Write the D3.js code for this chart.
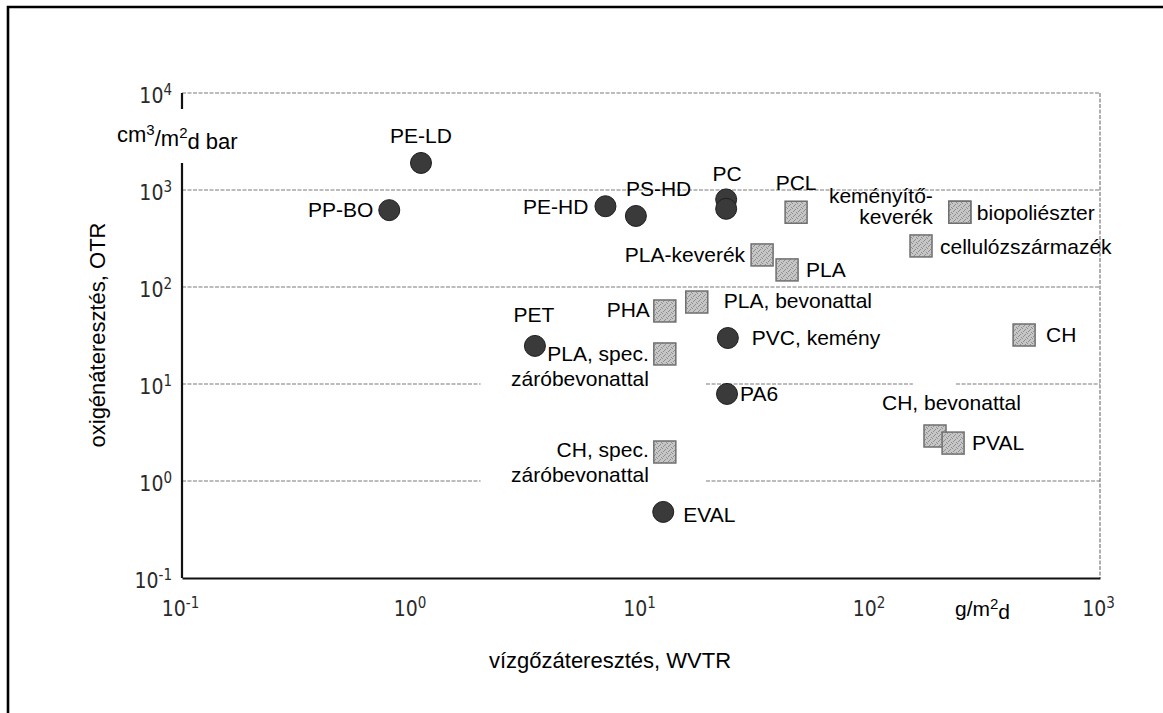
<!DOCTYPE html>
<html>
<head>
<meta charset="utf-8">
<script src="https://cdn.jsdelivr.net/npm/d3@7"></script>
<style>
  body { margin: 0; background: #fff; }
  svg { display: block; }
</style>
</head>
<body>
<div id="chart"></div>
<script>
// materials on the chart (one entry per marker)
const names = ["PE-LD", "PP-BO", "PE-HD", "PS-HD", "PC", "PC2", "PET", "PVC, kemény", "PA6", "EVAL",
    "PCL", "keményítő-keverék", "biopoliészter", "cellulózszármazék", "PLA-keverék", "PLA",
    "PLA, bevonattal", "PHA", "PLA, spec. záróbevonattal", "CH", "CH, bevonattal", "PVAL",
    "CH, spec. záróbevonattal"];
// water vapour transmission, g/m2d
const wvtr = [1.1, 0.8, 7.0, 9.5, 23.5, 23.5, 3.45, 23.9, 23.7, 12.5,
    47.4, 245, 245, 166, 33.7, 43.3,
    17.5, 12.7, 12.7, 467, 191, 229,
    12.7];
// oxygen transmission, cm3/m2d bar
const otr = [1900, 620, 680, 540, 800, 640, 24.7, 29.8, 7.9, 0.48,
    590, 590, 590, 265, 214, 150,
    70, 56.6, 20.4, 32, 2.91, 2.46,
    1.99];
// "fossil" = dark circle, "bio" = grey square
const kind = ["fossil", "fossil", "fossil", "fossil", "fossil", "fossil", "fossil", "fossil", "fossil", "fossil",
    "bio", "bio", "bio", "bio", "bio", "bio",
    "bio", "bio", "bio", "bio", "bio", "bio",
    "bio"];

const xTicks = [0.1, 1, 10, 100, 1000];
const yTicks = [0.1, 1, 10, 100, 1000, 10000];

// label placement next to each marker (anchor, offset in px, lines, line step)
const labelLayout = {
    "PE-LD": { a: "middle", dx: 0, dy: -20 },
    "PP-BO": { a: "end", dx: -16, dy: 7 },
    "PE-HD": { a: "end", dx: -17, dy: 8 },
    "PS-HD": { a: "start", dx: -10, dy: -20 },
    "PC": { a: "middle", dx: 1, dy: -18 },
    "PET": { a: "middle", dx: -1, dy: -24 },
    "PVC, kemény": { a: "start", dx: 24, dy: 7 },
    "PA6": { a: "start", dx: 13, dy: 7 },
    "EVAL": { a: "start", dx: 20, dy: 10 },
    "PCL": { a: "middle", dx: 0, dy: -22 },
    "keményítő-keverék": { a: "end", dx: -27, dy: -9, lines: ["keményítő-", "keverék"], step: 21 },
    "biopoliészter": { a: "start", dx: 17, dy: 8 },
    "cellulózszármazék": { a: "start", dx: 19, dy: 8 },
    "PLA-keverék": { a: "end", dx: -17, dy: 7 },
    "PLA": { a: "start", dx: 19, dy: 7 },
    "PLA, bevonattal": { a: "start", dx: 27, dy: 6 },
    "PHA": { a: "end", dx: -15, dy: 6 },
    "PLA, spec. záróbevonattal": { a: "end", dx: -16, dy: 7, lines: ["PLA, spec.", "záróbevonattal"], step: 25 },
    "CH": { a: "start", dx: 22, dy: 7 },
    "CH, bevonattal": { a: "start", dx: -53, dy: -26 },
    "PVAL": { a: "start", dx: 19, dy: 7 },
    "CH, spec. záróbevonattal": { a: "end", dx: -16, dy: 5, lines: ["CH, spec.", "záróbevonattal"], step: 25 }
};

// breaks in the dashed grid lines, in WVTR units
const gridGaps = { 1: [[2, 19.2]], 10: [[2, 19.2], [153, 236]] };

const W = 1163, H = 713;
const margin = { top: 93, right: 63, bottom: 135, left: 182 },
    width = W - margin.left - margin.right,
    height = H - margin.top - margin.bottom;

const root = d3.select("#chart").append("svg")
    .attr("width", W)
    .attr("height", H);

// speckled grey fill of the bio-based squares
const defs = root.append("defs");
const pat = defs.append("pattern")
    .attr("id", "speckle")
    .attr("patternUnits", "userSpaceOnUse")
    .attr("width", 5).attr("height", 5);
pat.append("rect").attr("width", 5).attr("height", 5).attr("fill", "#c6c6c6");
[[0, 0], [3, 1], [1, 3], [4, 4], [2, 2]].forEach(p => {
    pat.append("rect").attr("x", p[0]).attr("y", p[1]).attr("width", 1).attr("height", 1).attr("fill", "#8e8e8e");
});

// frame of the figure (left and top edge only)
root.append("path")
    .attr("d", `M8,${H} L8,7 L${W},7`)
    .attr("fill", "none")
    .attr("stroke", "#000")
    .attr("stroke-width", 2.6);

const svg = root.append("g")
    .attr("transform", `translate(${margin.left},${margin.top})`);

const x = d3.scaleLog().domain([0.1, 1000]).range([0, width]);
const y = d3.scaleLog().domain([0.1, 10000]).range([height, 0]);

const fontLabel = "Arial, 'Liberation Sans', Helvetica, sans-serif";
const fontTick = "'DejaVu Sans Condensed', 'Liberation Sans Narrow', 'Roboto Condensed', Roboto, sans-serif";

// dashed horizontal grid lines
yTicks.slice(1).forEach(v => {
    const gaps = gridGaps[v] || [];
    let start = 0.1;
    const segs = [];
    gaps.forEach(g => { segs.push([start, g[0]]); start = g[1]; });
    segs.push([start, 1000]);
    segs.forEach(s => {
        svg.append("line")
            .attr("x1", x(s[0])).attr("x2", x(s[1]))
            .attr("y1", y(v)).attr("y2", y(v))
            .attr("stroke", "#7a7a7a")
            .attr("stroke-width", 1.2)
            .attr("stroke-dasharray", "4,1.5");
    });
});
// dashed right edge
svg.append("line")
    .attr("x1", x(1000)).attr("x2", x(1000))
    .attr("y1", y(10000)).attr("y2", y(0.1))
    .attr("stroke", "#7a7a7a")
    .attr("stroke-width", 1.2)
    .attr("stroke-dasharray", "4,1.5");

// helper: turn "10^n" tick text into tspans
function powerLabel(sel, d) {
    const e = Math.round(Math.log10(d));
    sel.text(null);
    sel.append("tspan").text("10");
    sel.append("tspan").attr("dy", "-0.55em").attr("font-size", "15px").text(e);
}

// x axis
const gx = svg.append("g")
    .attr("transform", `translate(0,${height})`)
    .call(d3.axisBottom(x).tickValues(xTicks).tickSize(0).tickPadding(0));
gx.select(".domain").attr("stroke", "#111").attr("stroke-width", 2.2);
gx.selectAll(".tick text")
    .attr("y", 38)
    .attr("dy", null)
    .attr("dx", -2)
    .attr("fill", "#2a2a2a")
    .attr("font-family", fontTick)
    .attr("font-size", "21px")
    .each(function (d) { powerLabel(d3.select(this), d); });

// y axis
const gy = svg.append("g")
    .call(d3.axisLeft(y).tickValues(yTicks).tickSize(0).tickPadding(0));
gy.select(".domain").remove();
gy.selectAll(".tick text")
    .attr("x", -10)
    .attr("dy", "0.45em")
    .attr("fill", "#2a2a2a")
    .attr("font-family", fontTick)
    .attr("font-size", "21px")
    .each(function (d) { powerLabel(d3.select(this), d); });
// y axis line, broken where the unit sits
svg.append("path")
    .attr("d", `M0,${y(10000)} V${y(10000) + 16} M0,${y(10000) + 70} V${height}`)
    .attr("stroke", "#111")
    .attr("stroke-width", 2.2);

// unit labels
const unitY = svg.append("text")
    .attr("x", -65)
    .attr("y", 49)
    .attr("font-family", fontLabel)
    .attr("font-size", "22px")
    .attr("fill", "#000");
unitY.append("tspan").text("cm");
unitY.append("tspan").attr("dy", "-0.5em").attr("font-size", "15px").text("3");
unitY.append("tspan").attr("dy", "0.5em").text("/m");
unitY.append("tspan").attr("dy", "-0.5em").attr("font-size", "15px").text("2");
unitY.append("tspan").attr("dy", "0.5em").text("d bar");

const unitX = svg.append("text")
    .attr("x", 955 - margin.left)
    .attr("y", height + 38)
    .attr("font-family", fontLabel)
    .attr("font-size", "21px")
    .attr("fill", "#000");
unitX.append("tspan").text("g/m");
unitX.append("tspan").attr("dy", "-0.5em").attr("font-size", "15px").text("2");
unitX.append("tspan").attr("dy", "0.5em").text("d");

// axis titles
svg.append("text")
    .attr("transform", `translate(${105 - margin.left},${335 - margin.top}) rotate(-90)`)
    .attr("text-anchor", "middle")
    .attr("font-family", fontLabel)
    .attr("font-size", "22px")
    .text("oxigénáteresztés, OTR");

svg.append("text")
    .attr("x", 610 - margin.left)
    .attr("y", height + 90)
    .attr("text-anchor", "middle")
    .attr("font-family", fontLabel)
    .attr("font-size", "22px")
    .text("vízgőzáteresztés, WVTR");

// markers
const data = names.map((n, i) => ({ name: n, wvtr: wvtr[i], otr: otr[i], kind: kind[i] }));

svg.selectAll("rect.bio")
    .data(data.filter(d => d.kind === "bio"))
    .join("rect")
    .attr("class", "bio")
    .attr("x", d => x(d.wvtr) - 11)
    .attr("y", d => y(d.otr) - 11)
    .attr("width", 22)
    .attr("height", 22)
    .attr("fill", "url(#speckle)")
    .attr("stroke", "#6f6f6f")
    .attr("stroke-width", 1.5);

svg.selectAll("circle.fossil")
    .data(data.filter(d => d.kind === "fossil"))
    .join("circle")
    .attr("class", "fossil")
    .attr("cx", d => x(d.wvtr))
    .attr("cy", d => y(d.otr))
    .attr("r", 10.5)
    .attr("fill", "#3a3a3a")
    .attr("stroke", "#1e1e1e")
    .attr("stroke-width", 1);

// labels
const labels = svg.append("g")
    .attr("font-family", fontLabel)
    .attr("font-size", "21px")
    .attr("fill", "#000");

data.filter(d => labelLayout[d.name]).forEach(d => {
    const L = labelLayout[d.name];
    const t = labels.append("text")
        .attr("x", x(d.wvtr) + L.dx)
        .attr("y", y(d.otr) + L.dy)
        .attr("text-anchor", L.a);
    (L.lines || [d.name]).forEach((line, i) => {
        t.append("tspan")
            .attr("x", x(d.wvtr) + L.dx)
            .attr("dy", i === 0 ? 0 : L.step)
            .text(line);
    });
});
</script>
</body>
</html>
